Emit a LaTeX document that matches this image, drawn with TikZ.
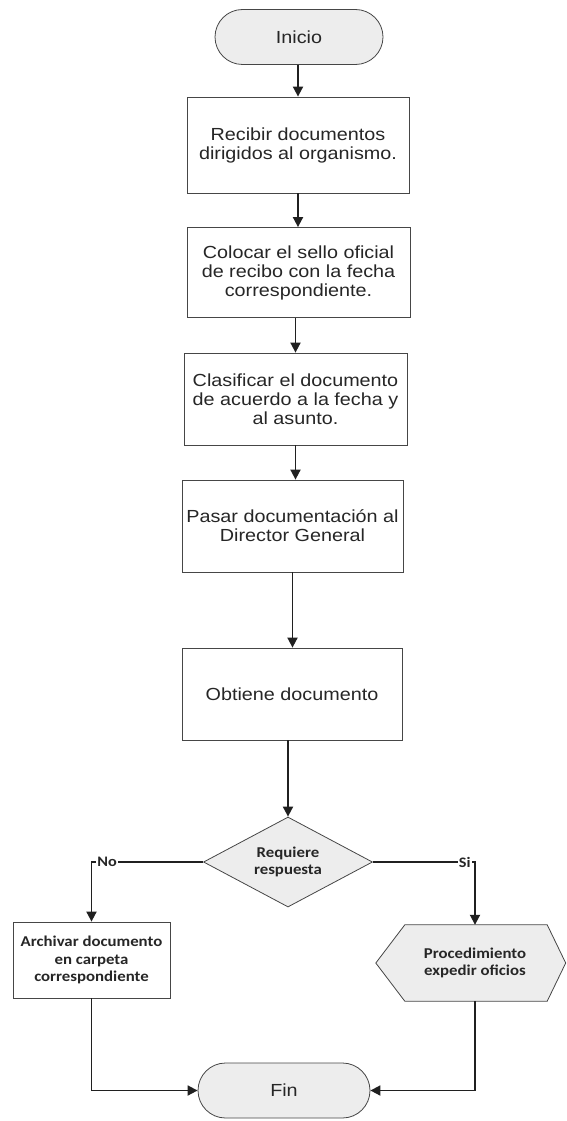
\documentclass[tikz,border=0pt]{standalone}
\usepackage{fontspec}
\setmainfont{Liberation Sans}
\newfontfamily\boxfont{Liberation Sans}[FakeStretch=1.13]
\newfontfamily\calfont{Carlito}[FakeStretch=1.12]
\usetikzlibrary{arrows.meta,shapes.geometric,backgrounds}

\begin{document}
\begin{tikzpicture}[x=1pt,y=-1pt,
  outline/.style={draw=gray!55!black, line width=0.8pt},
  proc/.style={outline, fill=white, align=center, inner sep=0pt,
    text=black!85, font=\boxfont\fontsize{17.5}{19}\selectfont},
  term/.style={proc, fill=gray!14, rounded corners=27.5pt},
  smalltext/.style={align=center, inner sep=0pt, text=black!85,
    font=\calfont\bfseries\fontsize{15}{17.5}\selectfont},
  dec/.style={smalltext, outline, fill=gray!14, diamond, aspect=1.878,
    minimum width=169pt, minimum height=90pt},
  lbl/.style={fill=white, inner sep=1pt, text=black!85,
    font=\calfont\bfseries\fontsize{14.5}{16}\selectfont},
  link/.style={draw=gray!25!black, line width=1.8pt,
    -{Triangle[length=10pt,width=10pt]}}]
\useasboundingbox (0,0) rectangle (566,1121);

% main sequence
\node[term, minimum width=168pt, minimum height=55pt] (inicio) at (299,37) {Inicio};
\node[proc, minimum width=222pt, minimum height=96pt] (b1) at (298,145)
  {Recibir documentos\\dirigidos al organismo.};
\node[proc, minimum width=223pt, minimum height=90pt] (b2) at (298.5,272.5)
  {Colocar el sello oficial\\de recibo con la fecha\\correspondiente.};
\node[proc, minimum width=223pt, minimum height=92pt] (b3) at (295.5,399)
  {Clasificar el documento\\de acuerdo a la fecha y\\al asunto.};
\node[proc, minimum width=221pt, minimum height=92pt] (b4) at (292.5,526)
  {Pasar documentación al\\Director General};
\node[proc, minimum width=220pt, minimum height=92pt] (b5) at (292,694)
  {Obtiene documento};
\node[dec] (dia) at (288,862) {Requiere\\respuesta};

% branches
\node[smalltext, outline, fill=white, minimum width=157pt, minimum height=76pt]
  (arch) at (91.5,960) {Archivar documento\\en carpeta\\correspondiente};
\node[smalltext, minimum width=190pt, minimum height=76pt] (hex) at (475,963)
  {Procedimiento\\expedir oficios};
\begin{scope}[on background layer]
  \draw[outline, fill=gray!14]
    ([xshift=-4pt]hex.west) -- ([xshift=25pt]hex.north west)
    -- ([xshift=-23pt]hex.north east) -- ([xshift=-4.5pt]hex.east)
    -- ([xshift=-23pt]hex.south east) -- ([xshift=25pt]hex.south west) -- cycle;
\end{scope}

\node[term, minimum width=172pt, minimum height=55pt] (fin) at (284,1090.5) {Fin};

% connectors
\draw[link] (b1.north |- inicio.south) -- (b1.north);
\draw[link] (b1.south) -- (b1.south |- b2.north);
\draw[link] (b3.north |- b2.south) -- (b3.north);
\draw[link] (b3.south) -- (b3.south |- b4.north);
\draw[link] (b4.south) -- (b4.south |- b5.north);
\draw[link] (dia.north |- b5.south) -- (dia.north);
\draw[link] (dia.west) -| node[lbl, pos=0.43] {No} (arch.north);
\draw[link] (dia.east) -| node[lbl, pos=0.45] {Si} (hex.north);
\draw[link] (arch.south) |- (fin.west);
\draw[link] (hex.south) |- (fin.east);
\end{tikzpicture}
\end{document}
